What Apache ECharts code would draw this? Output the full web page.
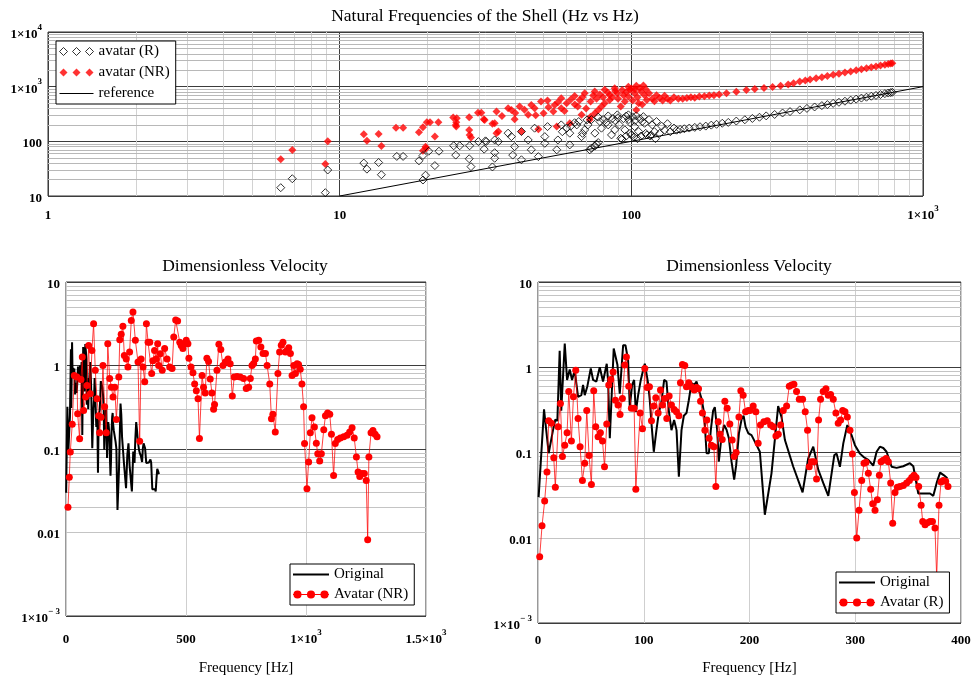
<!DOCTYPE html>
<html><head><meta charset="utf-8">
<script src="https://cdn.jsdelivr.net/npm/echarts@6/dist/echarts.min.js"></script>
<style>html,body{margin:0;padding:0;background:#fff}#c{width:978px;height:683px}</style>
</head><body><div id="c"></div>
<script>
// ---------- DATA ----------
// Top chart: natural frequencies [x Hz, y Hz]
const avatarNR = [
[6.28,47],[6.88,69.5],[8.93,38.5],[9.1,100],[12.1,135],[12.4,103],[13.6,136],[13.9,82],[15.6,178],[16.5,178],
[18.7,147],[19.3,181],[19.9,224],[20.4,224],[19.7,80],[19.3,67.5],[19.8,75],[21.2,122],[21.8,224],
[24.5,272],[25.2,265],[25.1,224],[25.0,200],[25.1,186],[27.8,277],[27.8,162],[28.2,117],[27.9,131],
[29.8,335],[30.6,335],[31.2,254],[31.4,245],[33.4,209],[34.5,350],[34.0,214],[34.5,141],
[35,151],[36,290],[37.8,404],[38.8,376],[39.8,254],[40,330],[41.4,433],[42,151],[43,380],[44.3,305],[45.4,464],[46.6,404],[47,300],
[48,166],[49,533],[50,327],[51.6,556],[52,420],[54,350],[54.6,464],[55.5,186],[56,520],[57.5,617],[57.5,404],[59,360],[60,499],
[61.5,214],[62,580],[63.9,676],[64,470],[65.5,433],[66.5,573],[67.5,305],[68,640],[69.2,757],[70,400],[72,247],[72.5,283],[72.5,533],
[74,690],[74.9,813],[75,327],[76,600],[77,376],[78,720],[79,433],[80,640],[81,874],[81,499],[83,780],[84.3,573],[84.3,707],[86,650],
[87.7,940],[88,830],[89.5,757],[90,600],[92,433],[93,870],[94,700],[95,533],[96,800],[97.7,1000],[97.7,660],[99,880],[100,930],
[101,560],[102.6,757],[103,900],[104,1035],[104,376],[105,640],[106,499],[107,950],[108,820],[109,470],[110,1050],[111,700],[112,900],[113,573],
[115,760],[118,600],[120,540],[122,700],[125,620],[128,560],[130,680],[133,600],[136,560],[140,640],[145,600],[150,600],[155,620],
[160,640],[165,630],[171,660],[178,670],[185,690],[192,700],[200,720],[212,757],[229,810],[248,870],[265,910],[285,950],[305,990],
[325,1040],[345,1100],[360,1160],[378,1240],[395,1300],[410,1350],[430,1420],[450,1490],[470,1570],[492,1645],[515,1730],[540,1815],
[565,1900],[590,1990],[615,2080],[640,2170],[665,2260],[690,2350],[715,2440],[740,2530],[760,2600],[775,2650],[785,2690]
];
const avatarR = [
[6.28,14.2],[6.88,20.7],[8.93,11.5],[9.1,29.9],[12.1,40],[12.4,31],[13.6,41],[13.9,24.5],[15.7,53],[16.5,53],
[18.7,44],[19.3,19.6],[19.7,24],[19.3,55],[20.2,66],[21.2,36],[21.9,66],[24.6,83],[25,56],[25.8,83],[27.9,83],[27.8,48],[28.2,34.4],
[29.9,99],[31.3,72],[31.6,102],[31.8,99],[33.4,34],[34,106],[34,62],[34,49],[35,99],[37.8,141],[38.8,122],[39.2,56],[39.8,80],
[42,151],[42,46],[44.3,106],[45.4,70],[46.6,174],[48,52.5],[50.5,122],[50.5,92],[51.6,186],[55.5,70],[56,106],[57.5,200],[58,150],
[60,175],[61.5,86],[61.5,141],[62,190],[63.9,219],[65,200],[66,230],[67.5,122],[68,140],[69.2,162],[70.5,247],[71,200],[72,70],[73,75],
[73,250],[75,82],[75,141],[76,89],[77,95],[77,277],[78,230],[79,174],[80,250],[82,220],[83.3,292],[83.3,200],[85.5,131],[86,260],
[87.7,162],[88,240],[89.5,305],[90,270],[91,200],[92,114],[93,110],[94,260],[95,162],[96,125],[96,290],[97.7,305],[98,250],[99,140],
[99,220],[100,131],[101,280],[102,120],[102.6,186],[103,240],[104,292],[105,112],[106,151],[107,260],[108,125],[109,230],[110,283],
[111,214],[112,140],[113,131],[116,125],[121,112],
[115,250],[117,130],[118,200],[120,150],[122,230],[125,140],[127,190],[130,160],[133,210],[136,150],[140,175],[143,160],[147,165],
[152,170],[158,175],[165,180],[172,185],[180,190],[188,198],[196,205],[205,214],[215,222],[229,235],[245,248],[260,262],[275,276],
[290,292],[310,310],[330,330],[350,350],[378,376],[400,400],[425,425],[450,450],[470,470],[492,495],[515,518],[540,542],[565,568],
[590,592],[615,618],[640,642],[665,668],[690,692],[715,718],[740,745],[760,765],[775,780],[785,790]
];
const referenceLine = [[10,10],[1000,1000]];

// Bottom charts: [frequency Hz, dimensionless velocity]
const original = [
[0.6,0.030],[5.7,0.32],[10.1,0.098],[14.2,0.183],[16.4,0.244],[18.3,0.235],[20.5,1.56],[22,0.31],[25.3,1.9],[27.5,0.71],[30,0.94],
[32.2,0.71],[34.7,0.92],[37.9,0.45],[41,0.47],[42.6,0.62],[44.2,0.47],[46.7,0.6],[49.9,0.97],[52.1,0.71],[55.2,0.68],[58.4,1.0],
[61.5,0.68],[63.1,0.71],[65,1.1],[66.3,0.68],[67.9,0.147],[71.6,1.66],[75.1,1.07],[77.3,0.49],[80.5,1.81],[82.7,1.81],[85.2,1.21],
[86.8,0.34],[89,0.62],[90.9,0.71],[92.5,0.30],[94.7,0.47],[97.2,0.71],[99.4,0.92],[101,1.1],[104.1,0.65],[105.7,0.41],[107.3,0.22],
[109.5,0.102],[112,0.183],[114.2,0.29],[116.7,0.39],[119.3,0.71],[121.5,0.68],[123.7,0.31],[126.2,0.183],[128.7,0.24],[131,0.183],
[133.2,0.052],[135.7,0.183],[137.9,0.27],[140.4,0.29],[142.6,0.41],[145.1,0.65],[147.7,0.62],[149.9,0.68],[152.1,0.54],[154.6,0.43],
[157.1,0.29],[159.4,0.098],[161.6,0.098],[163.4,0.183],[165.6,0.31],[167.2,0.34],[169.4,0.185],[171,0.078],[173.5,0.153],[176,0.21],
[178.3,0.185],[180.5,0.147],[183,0.078],[185.5,0.048],[187.4,0.071],[190,0.168],[192.5,0.245],[194.4,0.27],[196.3,0.2],[198.9,0.168],
[201.9,0.16],[206.7,0.122],[209.8,0.102],[214.5,0.0186],[220.8,0.057],[227.1,0.35],[230.3,0.26],[233.5,0.14],[241.4,0.068],
[250.2,0.034],[255.5,0.085],[260.3,0.117],[265,0.063],[269.7,0.044],[274.5,0.031],[276,0.031],[280.2,0.093],[282.4,0.097],
[285.5,0.068],[288.7,0.128],[292.5,0.21],[296.5,0.16],[299.7,0.122],[304.4,0.097],[308.2,0.088],[312.3,0.082],[317,0.07],
[320.2,0.102],[323.3,0.117],[326.5,0.113],[329.6,0.102],[334.4,0.068],[339.1,0.066],[345.4,0.069],[351.7,0.075],[354.9,0.069],
[359.6,0.033],[364.4,0.033],[370.7,0.033],[373.8,0.031],[377,0.044],[380.2,0.058],[383.9,0.054],[387.1,0.05]
];
const avatarNRVel = [
[8.3,0.020],[13.8,0.046],[17.9,0.092],[26,0.198],[34.6,0.76],[45.7,0.73],[48.5,0.265],[56.8,0.133],[62.4,0.68],[67.9,1.26],
[73.5,0.29],[81.8,0.42],[87.4,0.575],[94.3,1.74],[101,0.46],[108,1.51],[115,3.16],[122,0.88],[129,0.40],[136,0.25],[140,0.156],
[146,0.24],[154,1.0],[161,0.32],[168,0.156],[174,1.82],[182,0.70],[189,0.55],[196,0.42],[203,0.55],[210,0.226],[220,0.73],[224,2.04],
[230,2.36],[237,2.95],[243,1.32],[251,1.2],[258,0.96],[265,1.45],[272,3.47],[279,4.37],[289,2.0],[300,1.1],[307,0.124],[313,1.2],
[321,0.96],[328,0.64],[335,3.16],[342,1.9],[349,1.9],[357,0.8],[362,1.14],[369,1.51],[376,1.2],[382,1.82],[386,1.0],[393,1.38],
[401,0.88],[411,1.6],[421,1.2],[432,0.96],[442,0.92],[449,2.2],[457,3.5],[465,3.4],[474,1.9],[480,1.74],[487,1.6],[494,1.82],
[501,2.0],[508,1.82],[512,1.22],[521,0.96],[529,0.82],[536,0.6],[543,0.5],[550,0.4],[556,0.134],[567,0.76],[573,0.55],[580,0.47],
[587,1.22],[594,1.12],[601,0.69],[608,0.47],[615,0.3],[619,0.34],[629,0.88],[637,1.8],[645,1.55],[654,1.0],[664,1.1],[675,1.2],
[684,1.05],[693,0.43],[701,0.73],[713,0.74],[726,0.73],[740,0.70],[751,0.53],[761,0.55],[768,0.7],[775,1.0],[782,1.06],[789,1.2],
[793,1.96],[803,2.0],[812,1.67],[821,1.39],[831,1.39],[838,1.0],[849,0.6],[856,0.23],[862,0.26],[872,0.16],[883,0.8],[890,1.45],
[897,1.75],[904,1.9],[914,1.45],[921,1.5],[928,1.63],[935,1.39],[942,0.76],[949,1.0],[956,0.8],[963,1.05],[969,1.03],[976,0.9],
[983,0.6],[990,0.32],[994,0.116],[1004,0.0335],[1011,0.07],[1018,0.156],[1025,0.237],[1035,0.184],[1043,0.117],[1049,0.088],
[1057,0.072],[1064,0.088],[1074,0.17],[1081,0.25],[1090,0.27],[1099,0.26],[1106,0.15],[1115,0.048],[1122,0.116],[1132,0.13],
[1143,0.135],[1157,0.14],[1171,0.146],[1182,0.16],[1192,0.18],[1201,0.135],[1210,0.08],[1217,0.053],[1224,0.047],[1233,0.051],
[1243,0.051],[1251,0.042],[1257,0.0082],[1262,0.08],[1271,0.156],[1279,0.166],[1288,0.15],[1296,0.14]
];
const avatarRVel = [
[1.6,0.006],[3.8,0.0138],[6.3,0.027],[8.5,0.059],[10.1,0.235],[12.6,0.22],[14.9,0.087],[16.4,0.039],[19,0.2],[21.2,0.376],
[23.1,0.09],[25.3,0.122],[27.5,0.17],[29.1,0.52],[31.6,0.136],[33.5,0.45],[35.7,0.92],[37.9,0.25],[39.8,0.117],[42,0.047],
[44.2,0.075],[46.1,0.31],[48.3,0.092],[50.5,0.042],[52.7,0.53],[54.6,0.2],[56.8,0.153],[59,0.17],[61,0.136],[62.9,0.068],[65,0.216],
[66.9,0.62],[68.8,0.72],[71,0.88],[73.2,0.41],[75.7,0.36],[77.6,0.28],[79.8,0.43],[82,1.06],[83.6,1.32],[85.8,0.6],[88.3,0.33],
[90.9,0.33],[92.5,0.037],[96.6,0.29],[98.8,0.19],[101,0.97],[103.2,0.58],[105.4,0.59],[107.3,0.235],[109.5,0.35],[111.4,0.44],
[113.6,0.29],[115.8,0.54],[117.7,0.36],[119.9,0.43],[121.8,0.25],[124,0.46],[126.2,0.36],[128.7,0.32],[130.9,0.3],[133.2,0.27],
[134.7,0.66],[136.6,1.08],[138.8,1.05],[140.4,0.59],[142.6,0.66],[145.1,0.59],[147.7,0.54],[149.9,0.58],[151.8,0.56],[153.7,0.4],
[155.5,0.29],[157.8,0.183],[159.7,0.24],[161.8,0.147],[164,0.122],[166.3,0.117],[168.2,0.04],[170.4,0.23],[172.3,0.164],
[174.2,0.142],[176.7,0.4],[178.9,0.33],[181.4,0.216],[183.6,0.14],[185.5,0.09],[187.4,0.1],[190,0.26],[191.8,0.53],[194,0.47],
[196.3,0.3],[198.9,0.31],[200.4,0.31],[203.5,0.35],[206,0.3],[208.2,0.128],[210.4,0.21],[213.6,0.23],[216.8,0.235],[220,0.21],
[222.5,0.2],[225,0.156],[227.2,0.164],[229.4,0.21],[231.9,0.31],[235.1,0.35],[237.6,0.6],[239.8,0.62],[242,0.63],[244.5,0.52],
[247.1,0.42],[250.2,0.42],[252.7,0.3],[254.9,0.183],[256.5,0.068],[258.7,0.078],[260.9,0.078],[263.4,0.049],[265.3,0.24],
[267.2,0.42],[269.7,0.52],[272.3,0.56],[274.5,0.47],[276.7,0.48],[279.2,0.42],[281.7,0.29],[283.9,0.22],[286.2,0.24],[288.1,0.31],
[290.3,0.3],[292.5,0.26],[295,0.183],[297.3,0.096],[299.2,0.034],[301.4,0.0099],[303.6,0.021],[306.1,0.047],[308.3,0.075],
[310.2,0.077],[312.4,0.057],[314.6,0.037],[316.5,0.025],[318.7,0.021],[320.9,0.028],[322.8,0.054],[324.4,0.078],[326.5,0.081],
[329.1,0.085],[331.3,0.078],[333.5,0.044],[335.4,0.0148],[337.6,0.034],[339.8,0.039],[342.3,0.04],[345.5,0.041],[348.6,0.044],
[351.2,0.047],[353.4,0.051],[355.6,0.054],[357.5,0.051],[360,0.04],[362.3,0.024],[363.8,0.0155],[366,0.0142],[368.2,0.015],
[370.7,0.0155],[373,0.0155],[375.4,0.013],[377,0.0035],[379.2,0.024],[381.1,0.045],[383.3,0.047],[385.5,0.046],[387.7,0.04]
];

// Tick values and labels
const topXTicks = [1,10,100,1000];
const topXLabels = ['1','10','100','1×10^3'];
const topYTicks = [10,100,1000,10000];
const topYLabels = ['10','100','1×10^3','1×10^4'];
const velTicks = [0.001,0.01,0.1,1,10];
const velLabels = ['1×10^-3','0.01','0.1','1','10'];
const leftXTicks = [0,500,1000,1500];
const leftXLabels = ['0','500','1×10^3','1.5×10^3'];
const rightXTicks = [0,100,200,300,400];
const rightXLabels = ['0','100','200','300','400'];

// ---------- HELPERS ----------
const F = "'Liberation Serif','Times New Roman',serif";
function richLabel(s){
  const i = s.indexOf('^');
  if (i < 0) return '{b|' + s + '}';
  return '{b|' + s.slice(0,i) + '}{s|' + s.slice(i+1).replace('-', '− ') + '}';
}
function makeFmt(ticks, labels){
  return function(v){
    for (let i = 0; i < ticks.length; i++){
      const t = ticks[i];
      if (Math.abs(v - t) < 1e-9) return richLabel(labels[i]);
      if (t > 0 && v > 0 && Math.abs(Math.log10(v) - Math.log10(t)) < 1e-6) return richLabel(labels[i]);
    }
    return '';
  };
}
const rich = {
  b: {fontFamily:F, fontWeight:'bold', fontSize:13, color:'#000', lineHeight:18, verticalAlign:'bottom'},
  s: {fontFamily:F, fontWeight:'bold', fontSize:9, color:'#000', lineHeight:18, verticalAlign:'top'}
};
function minors(lo, hi){ // log minor grid values 2..9 x 10^k
  const out = [];
  for (let k = lo; k < hi; k++) for (let m = 2; m <= 9; m++) out.push(+(m * Math.pow(10, k)).toPrecision(6));
  return out;
}
function gridSeries(idx, xs, ys, xc, yc){
  const data = [];
  xs.forEach(v => data.push({xAxis: v, lineStyle:{color:xc}}));
  ys.forEach(v => data.push({yAxis: v, lineStyle:{color:yc}}));
  return {type:'line', xAxisIndex:idx, yAxisIndex:idx, data:[], z:1, silent:true,
    markLine:{silent:true, z:1, symbol:['none','none'], animation:false, label:{show:false},
      lineStyle:{width:1, type:'solid'}, emphasis:{disabled:true}, data:data}};
}
const majorColor = '#3c3c3c';
const diamonds = 'path://M0,4L4,0L8,4L4,8Z M13,4L17,0L21,4L17,8Z M26,4L30,0L34,4L30,8Z';
const dots = 'path://M0,4.4H40V5.6H0Z M0.5,5A4.5,4.5 0 1,1 9.5,5A4.5,4.5 0 1,1 0.5,5Z M15.5,5A4.5,4.5 0 1,1 24.5,5A4.5,4.5 0 1,1 15.5,5Z M30.5,5A4.5,4.5 0 1,1 39.5,5A4.5,4.5 0 1,1 30.5,5Z';
const thinLine = 'path://M0,3.5H34V4.5H0Z';
const thickLine = 'path://M0,4H40V6H0Z';

function valAxis(gi, type, min, max, ticks, labels, extra){
  return Object.assign({
    type:type, gridIndex:gi, min:min, max:max, logBase:10,
    axisLine:{show:false}, axisTick:{show:false},
    splitLine:{show:true, lineStyle:{color:majorColor, width:1}},
    axisLabel:{formatter:makeFmt(ticks, labels), rich:rich, margin:6, showMinLabel:true, showMaxLabel:true}
  }, extra || {});
}

const chart = echarts.init(document.getElementById('c'), null, {renderer:'canvas'});
const titleStyle = {fontFamily:F, fontWeight:'normal', fontSize:17.5, color:'#000'};
const legendText = {fontFamily:F, fontSize:15, color:'#000'};
const legendBase = {orient:'vertical', itemGap:5, padding:[3,6,3,3], z:20,
  borderColor:'#000', borderWidth:1, backgroundColor:'#fff', textStyle:legendText, selectedMode:false};
chart.setOption({
  animation:false,
  backgroundColor:'#fff',
  title:[
    {text:'Natural Frequencies of the Shell (Hz vs Hz)', left:480, top:2, textAlign:'center', textStyle:titleStyle},
    {text:'Dimensionless Velocity', left:240, top:252, textAlign:'center', textStyle:titleStyle},
    {text:'Dimensionless Velocity', left:744, top:252, textAlign:'center', textStyle:titleStyle}
  ],
  grid:[
    {left:48, top:32, width:875, height:164, show:true, borderColor:'#333', borderWidth:1},
    {left:66, top:282, width:360, height:334, show:true, borderColor:'#333', borderWidth:1},
    {left:538, top:282, width:423, height:341, show:true, borderColor:'#333', borderWidth:1}
  ],
  xAxis:[
    valAxis(0,'log',1,1000,topXTicks,topXLabels,{axisLabel:{formatter:makeFmt(topXTicks,topXLabels), rich:rich, margin:8, showMinLabel:true, showMaxLabel:true}}),
    valAxis(1,'value',0,1500,leftXTicks,leftXLabels,{interval:500, splitLine:{show:true, lineStyle:{color:'#cfcfcf'}},
      axisLabel:{formatter:makeFmt(leftXTicks,leftXLabels), rich:rich, margin:12},
      name:'Frequency [Hz]', nameLocation:'middle', nameGap:45, nameTextStyle:{fontFamily:F, fontSize:15, color:'#000'}}),
    valAxis(2,'value',0,400,rightXTicks,rightXLabels,{interval:100, splitLine:{show:true, lineStyle:{color:'#cfcfcf'}},
      axisLabel:{formatter:makeFmt(rightXTicks,rightXLabels), rich:rich, margin:6},
      name:'Frequency [Hz]', nameLocation:'middle', nameGap:38, nameTextStyle:{fontFamily:F, fontSize:15, color:'#000'}})
  ],
  yAxis:[
    valAxis(0,'log',10,10000,topYTicks,topYLabels),
    valAxis(1,'log',0.001,10,velTicks,velLabels),
    valAxis(2,'log',0.001,10,velTicks,velLabels)
  ],
  legend:[
    Object.assign({}, legendBase, {left:56, top:41, itemWidth:34, itemHeight:8, itemGap:6,
     data:[{name:'avatar (R)', icon:diamonds, itemStyle:{color:'rgba(0,0,0,0)', borderColor:'#000', borderWidth:1}},
           {name:'avatar (NR)', icon:diamonds, itemStyle:{color:'#ff0000', borderWidth:0}},
           {name:'reference', icon:thinLine, itemStyle:{color:'#000', borderWidth:0}}]}),
    Object.assign({}, legendBase, {left:290, top:564, itemWidth:36, itemHeight:9,
     data:[{name:'Original', icon:thickLine, itemStyle:{color:'#000', borderWidth:0}},
           {name:'Avatar (NR)', icon:dots, itemStyle:{color:'#ff0000', borderWidth:0}}]}),
    Object.assign({}, legendBase, {left:836, top:572, itemWidth:36, itemHeight:9,
     data:[{name:'Original', icon:thickLine, itemStyle:{color:'#000', borderWidth:0}},
           {name:'Avatar (R)', icon:dots, itemStyle:{color:'#ff0000', borderWidth:0}}]})
  ],
  series:[
    gridSeries(0, minors(0,3), minors(1,4), '#d2d2d2', '#b8b8b8'),
    gridSeries(1, [], minors(-3,1), '#d2d2d2', '#c4c4c4'),
    gridSeries(2, [], minors(-3,1), '#d2d2d2', '#c4c4c4'),
    {name:'reference', type:'line', xAxisIndex:0, yAxisIndex:0, data:referenceLine, symbol:'none', z:2,
     lineStyle:{color:'#000', width:1}, itemStyle:{color:'#000'}},
    {name:'avatar (NR)', type:'scatter', xAxisIndex:0, yAxisIndex:0, data:avatarNR, symbol:'diamond', symbolSize:8, z:3,
     itemStyle:{color:'#ff0000'}},
    {name:'avatar (R)', type:'scatter', xAxisIndex:0, yAxisIndex:0, data:avatarR, symbol:'diamond', symbolSize:8, z:4,
     itemStyle:{color:'rgba(255,255,255,0)', borderColor:'#000', borderWidth:1}},
    {name:'Original', type:'line', xAxisIndex:1, yAxisIndex:1, data:original, symbol:'none', z:3,
     lineStyle:{color:'#000', width:2}, itemStyle:{color:'#000'}},
    {name:'Avatar (NR)', type:'line', xAxisIndex:1, yAxisIndex:1, data:avatarNRVel, symbol:'circle', symbolSize:7, z:4,
     lineStyle:{color:'rgba(255,0,0,0.75)', width:1}, itemStyle:{color:'#ff0000'}},
    {name:'Original', type:'line', xAxisIndex:2, yAxisIndex:2, data:original, symbol:'none', z:3,
     lineStyle:{color:'#000', width:2}, itemStyle:{color:'#000'}},
    {name:'Avatar (R)', type:'line', xAxisIndex:2, yAxisIndex:2, data:avatarRVel, symbol:'circle', symbolSize:7, z:4,
     lineStyle:{color:'rgba(255,0,0,0.75)', width:1}, itemStyle:{color:'#ff0000'}}
  ]
});
</script></body></html>
